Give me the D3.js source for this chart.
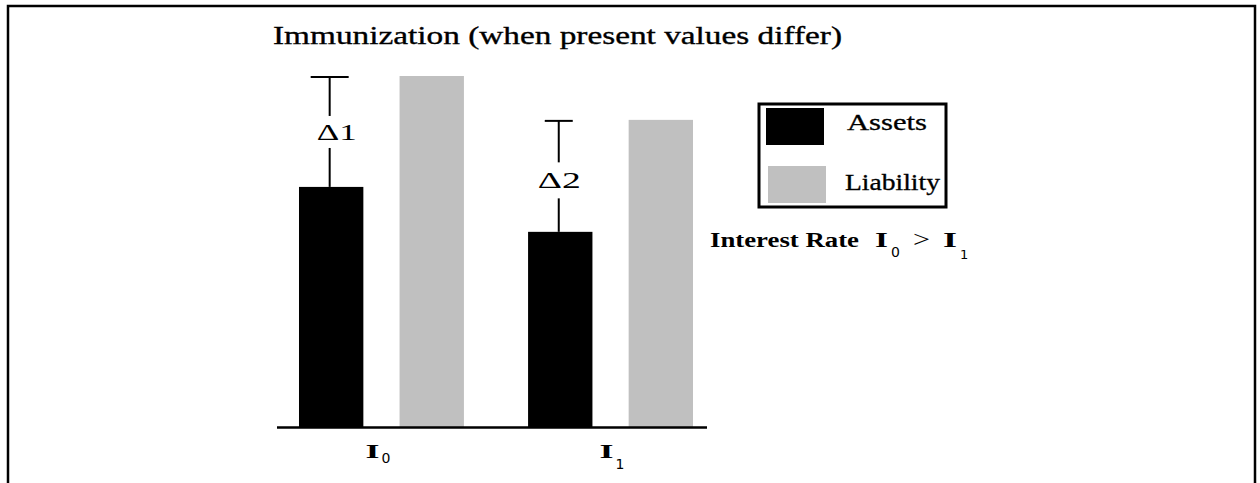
<!DOCTYPE html>
<html>
<head>
<meta charset="utf-8">
<script src="https://cdn.jsdelivr.net/npm/d3@7"></script>
<style>
  html, body { margin: 0; padding: 0; background: #fff; }
  svg { display: block; }
</style>
</head>
<body>
<svg id="chart" width="1260" height="483"></svg>
<script>
// ---- data ----
const categories = ["I0", "I1"];
const series = ["Assets", "Liability"];
const assets = [68.4, 55.6];
const liability = [100, 87.5];
const deltaLabels = ["\u03941", "\u03942"];
const titleText = "Immunization (when present values differ)";
const noteText = "Interest Rate";

// ---- drawing ----
const svg = d3.select("#chart");
const font = "Liberation Serif, Times New Roman, serif";
const colors = { Assets: "#000000", Liability: "#c0c0c0" };

// outer frame (open at the bottom)
svg.append("path")
  .attr("d", "M8,490 L8,6 L1255,6 L1255,490")
  .attr("fill", "none").attr("stroke", "#000").attr("stroke-width", 2.5);

// title
svg.append("text")
  .attr("x", 273).attr("y", 44)
  .attr("font-family", font).attr("font-size", 26)
  .attr("stroke", "#000").attr("stroke-width", 0.35)
  .attr("textLength", 569).attr("lengthAdjust", "spacingAndGlyphs")
  .text(titleText);

const x0 = d3.scaleBand().domain(categories).range([277, 715])
  .paddingInner(0.28).paddingOuter(0.096);
const x1 = d3.scaleBand().domain(series).range([0, x0.bandwidth()])
  .paddingInner(0.36).paddingOuter(0);
const y = d3.scaleLinear().domain([0, 100]).range([427, 76]);

const rows = categories.map((c, i) => ({ cat: c, Assets: assets[i], Liability: liability[i] }));

// bars
const g = svg.append("g");
rows.forEach(r => {
  series.forEach(s => {
    g.append("rect")
      .attr("x", x0(r.cat) + x1(s))
      .attr("y", y(r[s]))
      .attr("width", x1.bandwidth())
      .attr("height", y(0) - y(r[s]))
      .attr("fill", colors[s]);
  });
});

// baseline axis
svg.append("line")
  .attr("x1", 277).attr("x2", 707)
  .attr("y1", y(0) + 0.5).attr("y2", y(0) + 0.5)
  .attr("stroke", "#000").attr("stroke-width", 2.5);

// category labels (I with subscript)
rows.forEach((r, i) => {
  const cx = x0(r.cat) + x0.bandwidth() / 2 + (i === 0 ? -2 : 3);
  svg.append("text")
    .attr("x", cx - 14).attr("y", 458)
    .attr("font-family", font).attr("font-weight", "bold").attr("font-size", 19)
    .attr("textLength", 14).attr("lengthAdjust", "spacingAndGlyphs")
    .text(r.cat[0]);
  svg.append("text")
    .attr("x", cx + 2).attr("y", i === 0 ? 463 : 469)
    .attr("font-size", 14)
    .attr("font-family", "DejaVu Sans, sans-serif").text(r.cat.slice(1));
});

// delta markers (gap between asset and liability)
const capW = [38, 28];
rows.forEach((r, i) => {
  const cx = x0(r.cat) + x1("Assets") + x1.bandwidth() / 2 - 1.5;
  const yTop = y(r.Liability) + 1;
  const yBot = y(r.Assets);
  const mid = (yTop + yBot) / 2 + (i === 0 ? 0 : 4);
  const gap = i === 0 ? 16 : 18;
  const dg = svg.append("g").attr("stroke", "#000").attr("stroke-width", 2);
  dg.append("line").attr("x1", cx - capW[i] / 2).attr("x2", cx + capW[i] / 2)
    .attr("y1", yTop).attr("y2", yTop);
  dg.append("line").attr("x1", cx).attr("x2", cx).attr("y1", yTop).attr("y2", mid - gap);
  dg.append("line").attr("x1", cx).attr("x2", cx).attr("y1", mid + gap).attr("y2", yBot);
  svg.append("text")
    .attr("x", cx + (i === 0 ? -13 : -21)).attr("y", mid + 8)
    .attr("font-family", font).attr("font-size", 23)
    .attr("textLength", i === 0 ? 40 : 43).attr("lengthAdjust", "spacingAndGlyphs")
    .text(deltaLabels[i]);
});

// legend
const lg = svg.append("g");
lg.append("rect").attr("x", 759).attr("y", 104).attr("width", 187).attr("height", 103)
  .attr("fill", "#fff").attr("stroke", "#000").attr("stroke-width", 3);
const legendRows = [
  { s: "Assets", sx: 766, sy: 108, tx: 847, ty: 130, tw: 80 },
  { s: "Liability", sx: 768, sy: 166, tx: 845, ty: 190, tw: 95 }
];
legendRows.forEach(d => {
  lg.append("rect").attr("x", d.sx).attr("y", d.sy).attr("width", 58).attr("height", 37)
    .attr("fill", colors[d.s]);
  lg.append("text").attr("x", d.tx).attr("y", d.ty)
    .attr("font-family", font).attr("font-size", 23)
    .attr("stroke", "#000").attr("stroke-width", 0.3)
    .attr("textLength", d.tw).attr("lengthAdjust", "spacingAndGlyphs")
    .text(d.s);
});

// note: Interest Rate I0 > I1
const note = svg.append("g").attr("font-family", font);
note.append("text").attr("x", 710).attr("y", 247)
  .attr("font-size", 20).attr("font-weight", "bold")
  .attr("textLength", 149).attr("lengthAdjust", "spacingAndGlyphs")
  .text(noteText);
note.append("text").attr("x", 875).attr("y", 247)
  .attr("font-size", 20).attr("font-weight", "bold")
  .attr("textLength", 13).attr("lengthAdjust", "spacingAndGlyphs").text(categories[0][0]);
note.append("text").attr("x", 891).attr("y", 257)
  .attr("font-size", 14).attr("font-family", "DejaVu Sans, sans-serif").text(categories[0].slice(1));
note.append("text").attr("x", 913).attr("y", 247)
  .attr("font-size", 24)
  .attr("textLength", 17).attr("lengthAdjust", "spacingAndGlyphs").text(">");
note.append("text").attr("x", 943).attr("y", 247)
  .attr("font-size", 20).attr("font-weight", "bold")
  .attr("textLength", 14).attr("lengthAdjust", "spacingAndGlyphs").text(categories[1][0]);
note.append("text").attr("x", 960).attr("y", 259)
  .attr("font-size", 13).attr("font-family", "DejaVu Sans, sans-serif").text(categories[1].slice(1));
</script>
</body>
</html>
